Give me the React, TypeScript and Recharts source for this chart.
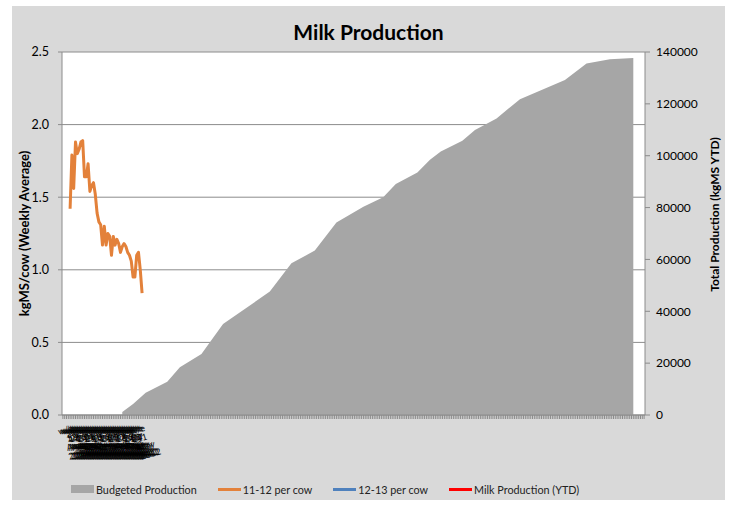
import React from 'react';
import { ComposedChart, Area, Line, XAxis, YAxis, CartesianGrid, Legend, Label } from 'recharts';

const FONT = 'Lato, "Liberation Sans", sans-serif';
const AXIS_GREY = '#8c8c8c';
const CHART_BG = '#d9d9d9';

// Category slots along the season axis
const categoryCount = 324;

// 2011-12 weekly average kgMS per cow, first week sits in slot 4
const weekStartSlot = 4;
const weekLabels = [
  'w/e 5 Aug 2011', 'w/e 12 Aug 2011', 'w/e 19 Aug 2011', 'w/e 26 Aug 2011',
  'w/e 2 Sep 2011', 'w/e 9 Sep 2011', 'w/e 16 Sep 2011', 'w/e 23 Sep 2011', 'w/e 30 Sep 2011',
  'w/e 7 Oct 2011', 'w/e 14 Oct 2011', 'w/e 21 Oct 2011', 'w/e 28 Oct 2011',
  'w/e 4 Nov 2011', 'w/e 11 Nov 2011', 'w/e 18 Nov 2011', 'w/e 25 Nov 2011',
  'w/e 2 Dec 2011', 'w/e 9 Dec 2011', 'w/e 16 Dec 2011', 'w/e 23 Dec 2011', 'w/e 30 Dec 2011',
  'w/e 6 Jan 2012', 'w/e 13 Jan 2012', 'w/e 20 Jan 2012', 'w/e 27 Jan 2012',
  'w/e 3 Feb 2012', 'w/e 10 Feb 2012', 'w/e 17 Feb 2012', 'w/e 24 Feb 2012',
  'w/e 2 Mar 2012', 'w/e 9 Mar 2012', 'w/e 16 Mar 2012', 'w/e 23 Mar 2012', 'w/e 30 Mar 2012',
  'w/e 6 Apr 2012', 'w/e 13 Apr 2012', 'w/e 20 Apr 2012', 'w/e 27 Apr 2012',
  'w/e 4 May 2012', 'w/e 11 May 2012',
];
const perCow1112 = [
  1.42, 1.79, 1.56, 1.88, 1.8, 1.83, 1.88, 1.89, 1.64, 1.64,
  1.73, 1.54, 1.58, 1.6, 1.52, 1.39, 1.33, 1.31, 1.17, 1.3,
  1.17, 1.25, 1.23, 1.1, 1.23, 1.17, 1.21, 1.18, 1.12, 1.16,
  1.18, 1.16, 1.12, 1.1, 1.06, 0.95, 0.95, 1.1, 1.12, 1.0,
  0.84,
];
// 2012-13 series carry no values yet
const perCow1213: number[] = [];
const milkProductionYtd: number[] = [];

// Budgeted cumulative production (kgMS) at its slots
const budgetSlots = [33, 39, 46, 58, 65, 77, 89, 115, 127, 140, 152, 167, 178, 185, 197, 204, 210, 222, 229, 241, 254, 279, 291, 304, 317];
const budgetKg = [
  1200, 4200, 8600, 12800, 18400, 23500, 35100, 47600, 58500, 63400,
  74200, 80300, 84000, 89100, 93500, 98400, 101600, 105800, 109900, 114400,
  121800, 129200, 135600, 137200, 137700,
];

const perCowTicks = [0, 0.5, 1, 1.5, 2, 2.5];
const totalTicks = [0, 20000, 40000, 60000, 80000, 100000, 120000, 140000];

const seriesNames = ['Budgeted Production', '11-12 per cow', '12-13 per cow', 'Milk Production (YTD)'];
const seriesColours = ['#a6a6a6', '#e3813a', '#4f81bd', '#ff0000'];

const slotTicks = Array.from({ length: categoryCount }, (_, k) => k);
const budgetData = budgetSlots.map((slot, k) => ({ slot, kg: budgetKg[k] }));
const perCow1112Data = perCow1112.map((v, k) => ({ slot: weekStartSlot + k, v }));
const perCow1213Data = perCow1213.map((v, k) => ({ slot: weekStartSlot + k, v }));
const ytdData = milkProductionYtd.map((kg, k) => ({ slot: weekStartSlot + k, kg }));

const WeekTick = (props: any) => {
  const { x, y, payload } = props;
  const j = Math.round(payload.value) - weekStartSlot;
  if (j < 0 || j >= weekLabels.length) return <g />;
  const words = weekLabels[j].split(' ');
  const cx = x - 6;
  return (
    <text
      x={cx}
      y={y}
      transform={`rotate(-16 ${cx} ${y})`}
      textAnchor="middle"
      fontSize={9}
      fill="#000"
      fontFamily={FONT}
    >
      {words.map((w, n) => (
        <tspan key={n} x={cx + n * 2} dy={n === 0 ? 8 : 9}>
          {w}
        </tspan>
      ))}
    </text>
  );
};

const LeftTitle = (props: any) => {
  const vb = props.viewBox;
  const x = vb.x + 12;
  const y = vb.y + vb.height / 2;
  return (
    <text x={x} y={y} transform={`rotate(-90 ${x} ${y})`} textAnchor="middle" dominantBaseline="central"
      fontWeight="bold" fontSize={13} fill="#000" fontFamily={FONT}>
      kgMS/cow (Weekly Average)
    </text>
  );
};

const RightTitle = (props: any) => {
  const vb = props.viewBox;
  const x = vb.x + 69;
  const y = vb.y + vb.height / 2 - 19;
  return (
    <text x={x} y={y} transform={`rotate(-90 ${x} ${y})`} textAnchor="middle" dominantBaseline="central"
      fontWeight="bold" fontSize={12} fill="#000" fontFamily={FONT}>
      Total Production (kgMS YTD)
    </text>
  );
};

const LegendRow = (props: any) => {
  const items = [...((props.payload || []) as any[])].sort(
    (a, b) => seriesNames.indexOf(String(a.value)) - seriesNames.indexOf(String(b.value)),
  );
  return (
    <div style={{ display: 'flex', alignItems: 'center', height: 20, fontFamily: FONT, fontSize: 10.8, color: '#222', whiteSpace: 'nowrap' }}>
      {items.map((e, k) => {
        const idx = seriesNames.indexOf(String(e.value));
        const colour = seriesColours[idx] ?? e.color;
        return (
          <div key={k} style={{ display: 'flex', alignItems: 'center', marginRight: 21 }}>
            {idx === 0 ? (
              <span style={{ display: 'inline-block', width: 23, height: 8, background: colour }} />
            ) : (
              <span style={{ display: 'inline-block', width: 23, height: 3, background: colour }} />
            )}
            <span style={{ marginLeft: 2 }}>{e.value}</span>
          </div>
        );
      })}
    </div>
  );
};

export default function App() {
  return (
    <div style={{ position: 'absolute', left: 12, top: 6, width: 713, height: 494, background: CHART_BG, fontFamily: FONT }}>
      <ComposedChart width={713} height={494} margin={{ top: 46, right: 0, bottom: 1, left: 0 }}>
        <CartesianGrid yAxisId="left" vertical={false} stroke={AXIS_GREY} fill="#ffffff" />
        <XAxis
          type="number"
          dataKey="slot"
          domain={[-0.5, categoryCount - 0.5]}
          ticks={slotTicks}
          interval={0}
          height={64}
          tickSize={4}
          tickMargin={6}
          axisLine={{ stroke: AXIS_GREY }}
          tickLine={{ stroke: AXIS_GREY }}
          tick={<WeekTick />}
        />
        <YAxis
          yAxisId="left"
          width={50}
          domain={[0, 2.5]}
          ticks={perCowTicks}
          tickFormatter={(v: number) => v.toFixed(1)}
          tickSize={4}
          tickMargin={9}
          axisLine={{ stroke: AXIS_GREY }}
          tickLine={{ stroke: AXIS_GREY }}
          tick={{ fill: '#000', fontSize: 12.5, fontFamily: FONT }}
        >
          <Label content={LeftTitle} />
        </YAxis>
        <YAxis
          yAxisId="right"
          orientation="right"
          width={80}
          domain={[0, 140000]}
          ticks={totalTicks}
          tickSize={5}
          tickMargin={6}
          axisLine={{ stroke: AXIS_GREY }}
          tickLine={{ stroke: AXIS_GREY }}
          tick={{ fill: '#000', fontSize: 12, fontFamily: FONT }}
        >
          <Label content={RightTitle} />
        </YAxis>
        <Legend
          verticalAlign="bottom"
          align="left"
          wrapperStyle={{ left: 59, width: 'auto', height: 20 }}
          content={LegendRow}
        />
        <Area
          yAxisId="right"
          data={budgetData}
          dataKey="kg"
          name={seriesNames[0]}
          type="linear"
          fill={seriesColours[0]}
          fillOpacity={1}
          stroke={seriesColours[0]}
          strokeWidth={0}
          dot={false}
          activeDot={false}
          isAnimationActive={false}
        />
        <Line
          yAxisId="left"
          data={perCow1112Data}
          dataKey="v"
          name={seriesNames[1]}
          type="linear"
          stroke={seriesColours[1]}
          strokeWidth={3}
          strokeLinejoin="round"
          dot={false}
          activeDot={false}
          isAnimationActive={false}
        />
        <Line
          yAxisId="left"
          data={perCow1213Data}
          dataKey="v"
          name={seriesNames[2]}
          type="linear"
          stroke={seriesColours[2]}
          strokeWidth={3}
          dot={false}
          activeDot={false}
          isAnimationActive={false}
        />
        <Line
          yAxisId="right"
          data={ytdData}
          dataKey="kg"
          name={seriesNames[3]}
          type="linear"
          stroke={seriesColours[3]}
          strokeWidth={3}
          dot={false}
          activeDot={false}
          isAnimationActive={false}
        />
      </ComposedChart>
      <div style={{ position: 'absolute', left: 0, top: 14, width: 713, textAlign: 'center', fontSize: 21, lineHeight: '24px', fontWeight: 'bold', color: '#000', fontFamily: FONT }}>
        Milk Production
      </div>
    </div>
  );
}
